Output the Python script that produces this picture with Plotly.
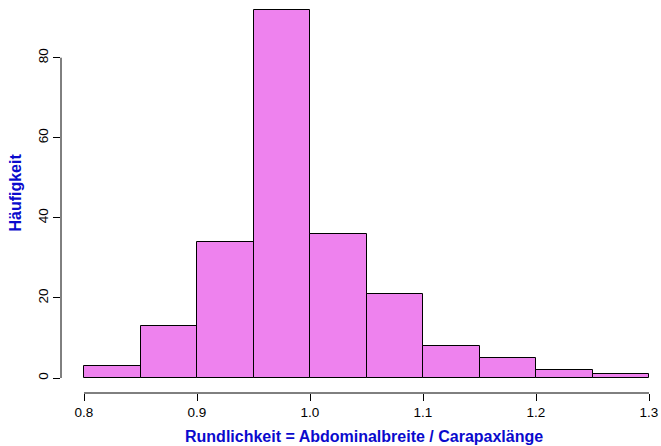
import plotly.graph_objects as go

bin_left = [0.80, 0.85, 0.90, 0.95, 1.00, 1.05, 1.10, 1.15, 1.20, 1.25]
counts = [3, 13, 34, 92, 36, 21, 8, 5, 2, 1]
bin_width = 0.05
x_ticks = [0.8, 0.9, 1.0, 1.1, 1.2, 1.3]
x_tick_labels = ["0.8", "0.9", "1.0", "1.1", "1.2", "1.3"]
y_ticks = [0, 20, 40, 60, 80]

x_title = "Rundlichkeit = Abdominalbreite / Carapaxlänge"
y_title = "Häufigkeit"

FONT = "Liberation Sans, Arial, Helvetica, sans-serif"
BLUE = "#0a0acd"

fig = go.Figure()
fig.add_trace(go.Bar(
    x=bin_left, y=counts, width=bin_width, offset=0,
    marker=dict(color="violet", line=dict(color="black", width=1)),
    hoverinfo="skip",
))

# R-style detached axis lines spanning first to last tick
fig.add_shape(type="line", xref="x", yref="paper",
              x0=x_ticks[0], x1=x_ticks[-1], y0=0, y1=0,
              line=dict(color="black", width=1))
fig.add_shape(type="line", xref="paper", yref="y",
              x0=0, x1=0, y0=y_ticks[0], y1=y_ticks[-1],
              line=dict(color="black", width=1))

fig.update_layout(
    width=661, height=446,
    margin=dict(l=61, r=0, t=0, b=53),
    paper_bgcolor="white", plot_bgcolor="white",
    showlegend=False,
    bargap=0,
    font=dict(family=FONT, size=13, color="black"),
    xaxis=dict(
        range=[0.77965, 1.31062], tickvals=x_ticks, ticktext=x_tick_labels,
        ticks="outside", ticklen=7, tickwidth=1, tickcolor="black",
        showgrid=False, zeroline=False, showline=False,
        tickfont=dict(size=13.5),
    ),
    yaxis=dict(
        range=[-3.746, 94.41], tickvals=y_ticks,
        ticks="outside", ticklen=7, tickwidth=1, tickcolor="black",
        showgrid=False, zeroline=False, showline=False,
        tickangle=-90, tickfont=dict(size=13.5),
    ),
    annotations=[
        dict(text=x_title, xref="paper", yref="paper", x=0.5, y=0,
             xanchor="center", yanchor="middle", yshift=-43, xshift=3,
             showarrow=False,
             font=dict(family=FONT, size=16, color=BLUE, weight="bold")),
        dict(text=y_title, xref="paper", yref="paper", x=0, y=0.51,
             xanchor="center", yanchor="middle", xshift=-45, textangle=-90,
             showarrow=False,
             font=dict(family=FONT, size=16, color=BLUE, weight="bold")),
    ],
)

fig.write_html("out.html", config={"displayModeBar": False},
               post_script="document.body.style.margin='0';")
